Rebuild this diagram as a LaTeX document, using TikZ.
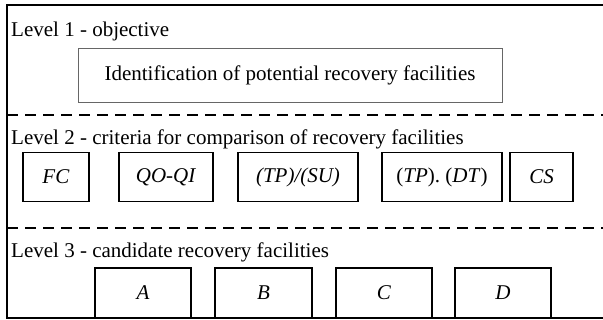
\documentclass[tikz,border=0pt]{standalone}
\usepackage{fontspec}
\setmainfont{Liberation Serif}
\usepackage{tikz}

\begin{document}
\begin{tikzpicture}[x=1pt, y=-1pt]
	\tikzstyle{every node} = [font=\fontsize{21}{24}\selectfont, inner sep=0pt]
	\tikzstyle{level} = [anchor=base west]
	\tikzstyle{crit} = [draw, line width=1.2pt, minimum height=49pt]
	\tikzstyle{cand} = [draw, line width=1.2pt, minimum width=96pt, minimum height=50pt]
	\tikzstyle{sep} = [line width=1.3pt, dash pattern=on 11pt off 7pt]
	\useasboundingbox (0,0) rectangle (603,320);
	% frame and level separators
	\draw [line width=1.6pt] (603,5) -- (7,5) -- (7,318) -- (603,318);
	\draw [sep] (7,115) -- (603,115);
	\draw [sep] (7,228) -- (603,228);
	% level 1
	\node [level] (lv1) at (11,37) {Level 1 - objective};
	\node [draw=black!60, line width=0.8pt, minimum width=424pt, minimum height=54pt] (obj) at (290,75) {Identification of potential recovery facilities};
	% level 2
	\node [level] (lv2) at (11,145) {Level 2 - criteria for comparison of recovery facilities};
	\node [crit, minimum width=66pt] (fc) at (56,177) {\textit{FC}};
	\node [crit, minimum width=94pt] (qo) at (166,177) {\textit{QO-QI}};
	\node [crit, minimum width=120pt, line width=1.8pt] (tpsu) at (298,177) {\textit{(TP)/(SU)}};
	\node [crit, minimum width=120pt] (tpdt) at (442,177) {(\textit{TP}). (\textit{DT})};
	\node [crit, minimum width=63pt] (cs) at (541.5,177) {\textit{CS}};
	% level 3
	\node [level] (lv3) at (11,258) {Level 3 - candidate recovery facilities};
	\node [cand] (a) at (143,293) {\textit{A}};
	\node [cand, minimum width=97pt] (b) at (263.5,293) {\textit{B}};
	\node [cand] (c) at (384,293) {\textit{C}};
	\node [cand] (d) at (503,293) {\textit{D}};
\end{tikzpicture}
\end{document}
